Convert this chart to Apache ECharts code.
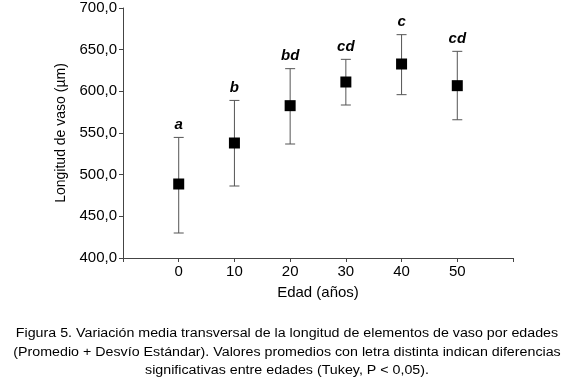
<!DOCTYPE html>
<html>
<head>
<meta charset="utf-8">
<script src="https://cdn.jsdelivr.net/npm/echarts@6/dist/echarts.min.js"></script>
<style>
html, body { margin: 0; padding: 0; background: #fff; }
#main { width: 571px; height: 380px; }
</style>
</head>
<body>
<div id="main"></div>
<script>
// edades y valores
var edades = [0, 10, 20, 30, 40, 50];
var promedios = [488.8, 538, 582.8, 611.2, 632.8, 606.8];
var limInf = [430, 486.4, 536.8, 583.6, 596, 565.9];
var limSup = [544.7, 589.1, 627.2, 638.4, 668, 648];
var letras = ['a', 'b', 'bd', 'cd', 'c', 'cd'];

var leyenda = [
	'Figura 5. Variación media transversal de la longitud de elementos de vaso por edades',
	'(Promedio + Desvío Estándar). Valores promedios con letra distinta indican diferencias',
	'significativas entre edades (Tukey, P < 0,05).'
];

var fuente = 'Liberation Sans, Arial, sans-serif';

var barras = [];
for (var i = 0; i < edades.length; i++) {
	barras.push([edades[i], limInf[i], limSup[i], letras[i]]);
}
var puntos = [];
for (var i = 0; i < edades.length; i++) {
	puntos.push([edades[i], promedios[i]]);
}

function dibujarError(params, api) {
	var x = api.value(0);
	var abajo = api.coord([x, api.value(1)]);
	var arriba = api.coord([x, api.value(2)]);
	var m = 5;
	var estilo = { stroke: '#555', lineWidth: 1 };
	return {
		type: 'group',
		children: [
			{ type: 'line', shape: { x1: arriba[0], y1: arriba[1], x2: abajo[0], y2: abajo[1] }, style: estilo },
			{ type: 'line', shape: { x1: arriba[0] - m, y1: arriba[1], x2: arriba[0] + m, y2: arriba[1] }, style: estilo },
			{ type: 'line', shape: { x1: abajo[0] - m, y1: abajo[1], x2: abajo[0] + m, y2: abajo[1] }, style: estilo },
			{
				type: 'text',
				x: arriba[0], y: arriba[1] - 5,
				style: {
					text: api.value(3),
					textAlign: 'center', textVerticalAlign: 'bottom',
					font: 'italic bold 15px ' + fuente,
					fill: '#000'
				}
			}
		]
	};
}

var chart = echarts.init(document.getElementById('main'));

var option = {
	animation: false,
	backgroundColor: '#fff',
	grid: { left: 123, right: 58, top: 8, bottom: 122, containLabel: false },
	xAxis: {
		type: 'value',
		min: -10, max: 60, interval: 10,
		name: 'Edad (años)',
		nameLocation: 'middle',
		nameGap: 27,
		nameTextStyle: { fontFamily: fuente, fontSize: 15, color: '#000' },
		axisLine: { onZero: false, lineStyle: { color: '#444' } },
		axisTick: { length: 4, lineStyle: { color: '#444' } },
		axisLabel: {
			fontFamily: fuente, fontSize: 15, color: '#000', margin: 6,
			formatter: function (v) { return (v < 0 || v > 50) ? '' : String(v); }
		},
		splitLine: { show: false }
	},
	yAxis: {
		type: 'value',
		min: 400, max: 700, interval: 50,
		name: 'Longitud de vaso (µm)',
		nameLocation: 'middle',
		nameGap: 46,
		nameTextStyle: { fontFamily: fuente, fontSize: 14, color: '#000' },
		axisLine: { show: true, onZero: false, lineStyle: { color: '#444' } },
		axisTick: { show: true, length: 4, lineStyle: { color: '#444' } },
		axisLabel: {
			fontFamily: fuente, fontSize: 15, color: '#000', margin: 6,
			formatter: function (v) { return v.toFixed(1).replace('.', ','); }
		},
		splitLine: { show: false }
	},
	graphic: leyenda.map(function (t, k) {
		return {
			type: 'text',
			x: 287, y: 334 + k * 18.5,
			scaleX: 1.14,
			style: {
				text: t,
				textAlign: 'center', textVerticalAlign: 'middle',
				font: '12.5px ' + fuente,
				fill: '#000'
			}
		};
	}),
	series: [
		{
			type: 'custom',
			renderItem: dibujarError,
			data: barras,
			z: 1
		},
		{
			type: 'scatter',
			symbol: 'rect',
			symbolSize: 11,
			itemStyle: { color: '#000', opacity: 1 },
			data: puntos,
			z: 2
		}
	]
};

chart.setOption(option);
</script>
</body>
</html>
